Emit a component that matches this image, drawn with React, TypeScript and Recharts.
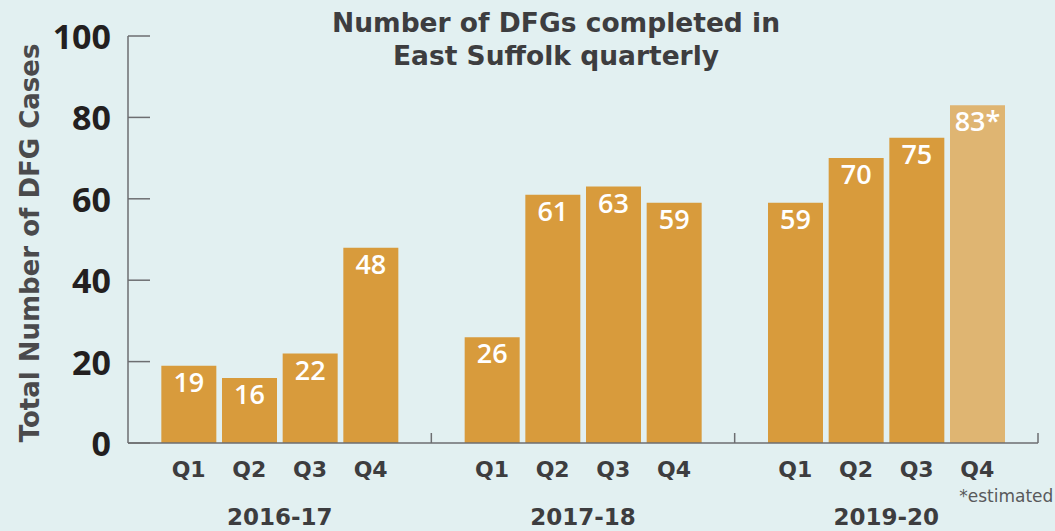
import React from "react";
import { BarChart, Bar, XAxis, YAxis, Cell, LabelList } from "recharts";

const years = ["2016-17", "2017-18", "2019-20"];
const quarters = ["Q1", "Q2", "Q3", "Q4"];
const completed = [
  [19, 16, 22, 48],
  [26, 61, 63, 59],
  [59, 70, 75, 83],
];
const estimated = [
  [false, false, false, false],
  [false, false, false, false],
  [false, false, false, true],
];
const yTicks = [0, 20, 40, 60, 80, 100];

const BAR = "#d89b3c";
const BAR_EST = "#dfb572";
const BG = "#e2f0f1";
const TEXT = "#3d3d3f";
const AXIS = "#6d6e71";
const FONT = "Open Sans, sans-serif";
const WIDE = "DejaVu Sans, sans-serif";

// each year takes 5 slots on a numeric axis: 4 bars then a separator
const slot = quarters.length + 1;
const rows = years.flatMap((year, g) =>
  quarters.map((q, i) => ({
    pos: g * slot + i + 1,
    quarter: q,
    year,
    value: completed[g][i],
    est: estimated[g][i],
  }))
);
const groupCenters = years.map((_, g) => g * slot + (quarters.length + 1) / 2);
const separators = years.map((_, g) => (g + 1) * slot);
const xTicks = [...rows.map((r) => r.pos), ...groupCenters, ...separators].sort((a, b) => a - b);

function XTick(props: any) {
  const { x, y, payload } = props;
  const v = payload.value;
  const row = rows.find((r) => r.pos === v);
  if (row) {
    return (
      <g>
        <text x={x} y={y + 26} textAnchor="middle" dominantBaseline="central" fill={TEXT} fontSize={22} fontWeight={700} fontFamily={WIDE}>
          {row.quarter}
        </text>
        {row.est && (
          <text x={x + 76} y={y + 53} textAnchor="end" dominantBaseline="central" fill="#58595b" fontSize={17} fontFamily={WIDE}>
            *estimated
          </text>
        )}
      </g>
    );
  }
  const gi = groupCenters.indexOf(v);
  if (gi >= 0) {
    return (
      <text x={x} y={y + 74} textAnchor="middle" dominantBaseline="central" fill={TEXT} fontSize={23} fontWeight={700} fontFamily={WIDE}>
        {years[gi]}
      </text>
    );
  }
  return <line x1={x} x2={x} y1={y} y2={y - 10} stroke={AXIS} strokeWidth={1.5} />;
}

function YTick(props: any) {
  const { x, y, payload } = props;
  return (
    <g>
      <line x1={x} x2={x + 22} y1={y} y2={y} stroke={AXIS} strokeWidth={1.5} />
      <text x={x - 17} y={y} textAnchor="end" dominantBaseline="central" fill="#231f20" fontSize={34} fontWeight={700} fontFamily={FONT}>
        {payload.value}
      </text>
    </g>
  );
}

export default function App() {
  return (
    <div style={{ position: "absolute", left: 0, top: 0, width: 1055, height: 531, background: BG, fontFamily: WIDE }}>
      <div style={{ position: "absolute", left: 0, width: 1112, top: 6, textAlign: "center", color: TEXT, fontSize: 26.5, fontWeight: 700, lineHeight: "33px" }}>
        Number of DFGs completed in
        <br />
        East Suffolk quarterly
      </div>
      <div
        style={{
          position: "absolute",
          left: 30,
          top: 243,
          transform: "translate(-50%, -50%) rotate(-90deg)",
          whiteSpace: "nowrap",
          color: "#4a4a4c",
          fontSize: 26,
          fontWeight: 700,
        }}
      >
        Total Number of DFG Cases
      </div>
      <BarChart width={1055} height={531} data={rows} margin={{ top: 36, right: 17, bottom: 58, left: 0 }}>
        <XAxis
          dataKey="pos"
          type="number"
          domain={[0, slot * years.length]}
          ticks={xTicks}
          interval={0}
          tick={<XTick />}
          tickLine={false}
          tickSize={0}
          tickMargin={0}
          axisLine={{ stroke: AXIS, strokeWidth: 1.5 }}
        />
        <YAxis
          type="number"
          domain={[0, 100]}
          ticks={yTicks}
          width={128}
          tick={<YTick />}
          tickLine={false}
          tickSize={0}
          tickMargin={0}
          axisLine={{ stroke: AXIS, strokeWidth: 1.5 }}
        />
        <Bar dataKey="value" barSize={55} isAnimationActive={false}>
          {rows.map((r, i) => (
            <Cell key={i} fill={r.est ? BAR_EST : BAR} />
          ))}
          <LabelList
            dataKey="value"
            position="insideTop"
            offset={7}
            fill="#ffffff"
            fontSize={27}
            fontWeight={600}
            fontFamily={FONT}
            formatter={(v: any) => {
              const r = rows.find((row) => row.value === v && row.est);
              return r ? `${v}*` : v;
            }}
          />
        </Bar>
      </BarChart>
    </div>
  );
}
